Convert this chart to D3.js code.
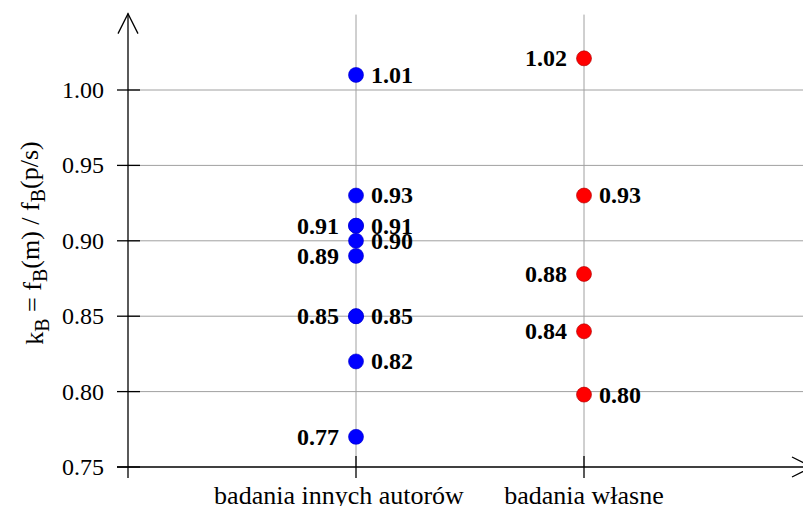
<!DOCTYPE html>
<html>
<head>
<meta charset="utf-8">
<style>
  body { margin: 0; background: #fff; }
  text { font-family: "Liberation Serif", "Times New Roman", serif; fill: #000; }
</style>
</head>
<body>
<script src="https://cdn.jsdelivr.net/npm/d3@7"></script>
<script>

  // categories and values
  var categories = ["badania innych autorów", "badania własne"];

  var blueValues = [1.01, 0.93, 0.91, 0.91, 0.90, 0.89, 0.85, 0.85, 0.82, 0.77];
  var blueSides  = ["right", "right", "left", "right", "right", "left", "left", "right", "right", "left"];

  var redValues = [1.021, 0.93, 0.878, 0.84, 0.798];
  var redSides  = ["left", "right", "left", "left", "right"];

  var yTicks = [0.75, 0.80, 0.85, 0.90, 0.95, 1.00];

  var width = 803;
  var height = 506;

  var svg = d3.select("body")
      .append("svg")
      .attr("width", width)
      .attr("height", height);

  var x = d3.scalePoint()
      .domain(categories)
      .range([128, 812])
      .padding(1);

  var y = d3.scaleLinear()
      .domain([0.75, 1.00])
      .range([467, 90]);

  var x0 = 128, y0 = y(0.75), yTop = y(1.05);

  // horizontal grid
  svg.selectAll(".hgrid")
      .data(yTicks.slice(1))
      .enter()
        .append("line")
        .attr("x1", x0).attr("x2", width)
        .attr("y1", function (d) { return y(d); })
        .attr("y2", function (d) { return y(d); })
        .attr("stroke", "#a0a0a0")
        .attr("stroke-width", 1);

  // vertical grid at categories
  svg.selectAll(".vgrid")
      .data(categories)
      .enter()
        .append("line")
        .attr("x1", function (d) { return x(d); })
        .attr("x2", function (d) { return x(d); })
        .attr("y1", yTop)
        .attr("y2", y0)
        .attr("stroke", "#a0a0a0")
        .attr("stroke-width", 1);

  // y ticks
  svg.selectAll(".ytick")
      .data(yTicks)
      .enter()
        .append("line")
        .attr("x1", x0 - 11).attr("x2", x0 + 12)
        .attr("y1", function (d) { return y(d); })
        .attr("y2", function (d) { return y(d); })
        .attr("stroke", "#000")
        .attr("stroke-width", 1.3);

  svg.selectAll(".ylab")
      .data(yTicks)
      .enter()
        .append("text")
        .attr("x", x0 - 24)
        .attr("y", function (d) { return y(d); })
        .attr("dy", "0.33em")
        .attr("text-anchor", "end")
        .style("font-size", "24px")
        .text(function (d) { return d.toFixed(2); });

  // x ticks
  svg.selectAll(".xtick")
      .data(categories)
      .enter()
        .append("line")
        .attr("x1", function (d) { return x(d); })
        .attr("x2", function (d) { return x(d); })
        .attr("y1", y0 - 11).attr("y2", y0 + 11)
        .attr("stroke", "#000")
        .attr("stroke-width", 1.3);

  svg.selectAll(".xlab")
      .data(categories)
      .enter()
        .append("text")
        .attr("x", function (d, i) { return x(d) + (i === 0 ? -17 : 0); })
        .attr("y", 504)
        .attr("text-anchor", "middle")
        .style("font-size", "26px")
        .text(function (d) { return d; });

  // axes with arrows
  svg.append("line")
      .attr("x1", x0).attr("x2", x0)
      .attr("y1", yTop - 1).attr("y2", y0 + 11)
      .attr("stroke", "#000").attr("stroke-width", 1.3);

  svg.append("path")
      .attr("d", "M" + (x0 - 10) + "," + (yTop + 19) + "L" + x0 + "," + (yTop - 1) + "L" + (x0 + 10) + "," + (yTop + 19))
      .attr("fill", "none").attr("stroke", "#000").attr("stroke-width", 1.3);

  svg.append("line")
      .attr("x1", x0 - 11).attr("x2", 812)
      .attr("y1", y0).attr("y2", y0)
      .attr("stroke", "#000").attr("stroke-width", 1.3);

  svg.append("path")
      .attr("d", "M792," + (y0 - 10) + "L812," + y0 + "L792," + (y0 + 10))
      .attr("fill", "none").attr("stroke", "#000").attr("stroke-width", 1.3);

  // y axis title
  var title = svg.append("text")
      .attr("transform", "translate(43,243) rotate(-90)")
      .attr("text-anchor", "middle")
      .style("font-size", "26px");

  var parts = [["k", 0], ["B", 1], [" = f", 0], ["B", 1], ["(m) / f", 0], ["B", 1], ["(p/s)", 0]];
  parts.forEach(function (p, i) {
    var prev = i > 0 ? parts[i - 1][1] : 0;
    title.append("tspan")
        .attr("dy", p[1] === prev ? 0 : (p[1] ? "0.3em" : "-0.3em"))
        .style("font-size", p[1] ? "20px" : "26px")
        .text(p[0]);
  });

  // points and labels
  function drawSeries(values, sides, cat, fill, stroke) {
    var cx = x(cat);
    var g = svg.append("g");

    g.selectAll("circle")
        .data(values)
        .enter()
          .append("circle")
          .attr("cx", cx)
          .attr("cy", function (d) { return y(d); })
          .attr("r", 7.5)
          .attr("fill", fill)
          .attr("stroke", stroke)
          .attr("stroke-width", 0.6);

    g.selectAll("text")
        .data(values)
        .enter()
          .append("text")
          .attr("x", function (d, i) { return sides[i] === "right" ? cx + 15 : cx - 17; })
          .attr("y", function (d) { return y(d); })
          .attr("dy", "0.33em")
          .attr("text-anchor", function (d, i) { return sides[i] === "right" ? "start" : "end"; })
          .style("font-size", "24px")
          .style("font-weight", "bold")
          .text(function (d) { return d.toFixed(2); });
  }

  drawSeries(blueValues, blueSides, categories[0], "#0000ff", "#0000cc");
  drawSeries(redValues, redSides, categories[1], "#ff0000", "#aa0000");

</script>
</body>
</html>
